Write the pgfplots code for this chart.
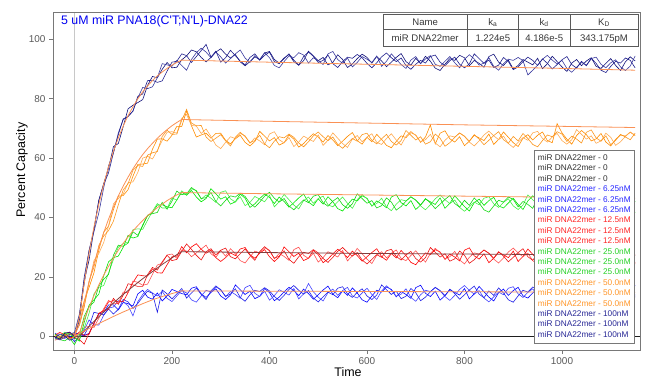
\documentclass[border=0pt]{standalone}
\usepackage{pgfplots}
\pgfplotsset{compat=1.18}
\usepackage{pgfplotstable}
\usepackage{fontspec}
\setmainfont{Liberation Sans}
\definecolor{axisgray}{RGB}{120,120,120}
\definecolor{ticktext}{RGB}{90,90,90}
\definecolor{vgray}{RGB}{200,200,200}
\definecolor{zeroc}{RGB}{30,30,30}
\definecolor{blueA}{RGB}{0,0,255}
\definecolor{blueB}{RGB}{70,70,255}
\definecolor{blueC}{RGB}{30,30,230}
\definecolor{redA}{RGB}{255,0,0}
\definecolor{redB}{RGB}{255,80,80}
\definecolor{redC}{RGB}{235,20,20}
\definecolor{greenA}{RGB}{0,230,0}
\definecolor{greenB}{RGB}{70,240,70}
\definecolor{greenC}{RGB}{20,215,20}
\definecolor{orA}{RGB}{255,140,0}
\definecolor{orB}{RGB}{255,170,80}
\definecolor{orC}{RGB}{250,150,30}
\definecolor{navA}{RGB}{15,15,120}
\definecolor{navB}{RGB}{60,60,160}
\definecolor{navC}{RGB}{30,30,140}
\definecolor{fitc}{RGB}{250,145,85}
\definecolor{fitred}{RGB}{130,60,60}
\definecolor{lgzero}{RGB}{50,50,50}
\definecolor{lgblue}{RGB}{40,40,255}
\definecolor{lgred}{RGB}{255,40,40}
\definecolor{lggreen}{RGB}{40,210,40}
\definecolor{lgor}{RGB}{255,150,40}
\definecolor{lgnav}{RGB}{40,40,150}
\definecolor{titleblue}{RGB}{0,0,240}
\definecolor{tabgray}{RGB}{90,90,90}
\definecolor{tabtext}{RGB}{55,55,55}

\pgfplotstableread{
t a b c
-40 -0.2 -0.2 1.1
-30 -0.8 -1.1 -0.1
-20 0.4 0.4 -0.7
-10 -0.4 1.3 0.2
0 0.9 0.6 -1.8
10 1.0 -0.1 0.0
20 0.3 2.2 0.4
30 1.0 5.5 3.4
40 4.4 3.9 8.1
50 7.5 3.8 7.7
60 8.0 7.1 7.2
70 10.6 9.5 9.2
80 10.6 9.9 7.5
90 8.9 12.0 9.1
100 11.4 11.6 12.4
110 11.0 10.3 11.6
120 10.2 6.9 9.4
130 14.3 11.7 11.1
140 15.5 14.1 13.3
150 13.2 15.8 15.2
160 12.5 14.6 14.5
170 14.6 13.6 8.1
180 11.9 15.1 15.6
190 13.6 12.8 14.3
200 15.8 11.7 12.6
210 15.1 13.6 14.3
220 14.4 15.4 16.1
230 14.0 14.6 12.9
240 16.2 12.3 14.6
250 16.7 11.5 16.2
260 14.3 13.6 14.1
270 13.1 15.5 12.4
280 14.8 14.9 15.3
290 16.0 16.6 17.0
300 13.6 15.8 15.6
310 12.4 13.3 13.5
320 13.9 15.1 14.2
330 17.3 14.1 16.0
340 15.7 12.8 13.1
350 14.1 16.4 11.8
360 15.2 17.2 14.0
370 12.7 14.5 15.5
380 13.5 13.4 15.1
390 16.1 15.2 16.4
400 14.7 12.2 15.3
410 12.0 13.7 13.4
420 13.2 15.7 12.1
430 15.0 14.8 13.8
440 16.5 13.9 15.8
450 15.4 16.1 17.1
460 13.7 12.6 15.5
470 15.9 14.3 14.2
480 14.4 17.8 15.4
490 12.5 15.0 12.9
500 14.0 13.2 11.6
510 15.6 11.9 13.3
520 16.9 14.7 14.9
530 14.2 15.9 14.0
540 13.0 13.8 16.2
550 15.3 15.4 16.7
560 13.8 16.5 14.3
570 16.3 13.6 13.1
580 14.6 12.9 14.8
590 12.3 14.6 16.0
600 11.5 16.2 13.6
610 13.6 14.1 12.4
620 15.5 12.4 13.9
630 14.9 15.3 17.3
640 16.6 17.0 15.7
650 15.8 15.6 14.1
660 13.3 13.5 15.2
670 15.1 14.2 12.7
680 14.1 16.0 13.5
690 12.8 13.1 16.1
700 16.4 11.8 14.7
710 17.2 14.0 12.0
720 14.5 15.5 13.2
730 13.4 15.1 15.0
740 15.2 16.4 16.5
750 12.2 15.3 15.4
760 13.7 13.4 13.7
770 15.7 12.1 15.9
780 14.8 13.8 14.4
790 13.9 15.8 12.5
800 16.1 17.1 14.0
810 12.6 15.5 15.6
820 14.3 14.2 16.9
830 16.8 15.4 14.2
840 15.0 12.9 13.0
850 13.2 11.6 15.3
860 11.9 13.3 13.8
870 14.7 14.9 16.3
880 15.9 14.0 14.6
890 13.8 16.2 12.3
900 15.4 16.7 11.5
910 16.5 14.3 13.6
920 13.6 13.1 15.5
930 12.9 14.8 14.9
940 14.6 16.0 16.6
950 16.2 13.6 15.8
960 14.1 12.4 13.3
970 12.4 13.9 15.1
980 15.3 17.3 14.1
990 17.0 15.7 12.8
1000 15.6 14.1 16.4
1010 13.5 15.2 17.2
1020 14.2 12.7 14.5
1030 16.0 13.5 13.4
1040 13.1 16.1 15.2
1050 11.8 14.7 12.2
1060 14.0 12.0 13.7
1070 15.5 13.2 15.7
1080 15.1 15.0 14.8
1090 16.4 16.5 13.9
1100 15.3 15.4 16.1
1110 13.4 13.7 12.6
1120 12.1 15.9 14.3
1130 13.8 14.4 16.8
1140 15.8 12.5 15.0
1150 17.1 14.0 13.2
}\tblue

\pgfplotstableread{
t a b c
-40 0.4 -1.3 -0.2
-30 1.3 -0.7 -0.9
-20 0.6 0.3 1.0
-10 -0.5 1.0 1.4
0 -0.2 0.5 -0.3
10 1.5 -0.8 -1.1
20 0.3 3.1 -2.6
30 0.7 3.3 1.1
40 4.5 3.0 4.2
50 7.6 6.1 7.8
60 8.8 9.3 8.5
70 11.6 12.1 9.1
80 12.0 10.9 12.8
90 11.6 11.2 10.8
100 11.7 14.9 13.9
110 14.7 14.7 17.7
120 18.1 18.6 17.3
130 20.7 18.2 16.8
140 20.4 17.2 16.8
150 20.3 17.6 20.8
160 22.7 20.9 23.2
170 21.4 24.0 22.3
180 21.3 24.6 25.1
190 24.1 27.4 27.3
200 26.8 27.7 25.5
210 27.0 26.3 25.9
220 30.2 29.1 28.6
230 28.1 28.7 31.1
240 30.1 26.8 29.3
250 31.2 28.1 27.3
260 29.3 29.4 25.7
270 28.0 30.7 28.5
280 29.0 27.8 29.5
290 26.5 26.6 27.4
300 25.2 28.9 29.0
310 26.5 27.0 29.7
320 28.1 29.5 26.8
330 27.2 27.8 26.1
340 29.4 25.5 27.8
350 29.9 24.7 29.4
360 27.5 26.8 27.3
370 26.3 28.7 25.6
380 28.0 28.1 28.5
390 29.2 29.8 30.2
400 26.8 29.0 28.8
410 25.2 26.1 26.3
420 26.7 27.9 27.0
430 30.1 26.9 28.8
440 28.5 25.6 25.9
450 26.9 29.2 24.6
460 28.0 30.0 26.8
470 25.5 27.3 28.3
480 26.3 26.2 27.9
490 28.9 28.0 29.2
500 27.5 25.0 28.1
510 24.8 26.5 26.2
520 26.0 28.5 24.9
530 27.8 27.6 26.6
540 29.3 26.7 28.6
550 28.2 28.9 29.9
560 26.5 25.4 28.3
570 28.7 27.1 27.0
580 27.2 29.6 28.2
590 25.3 27.8 25.7
600 26.8 26.0 24.4
610 28.2 24.5 25.9
620 29.5 27.3 27.5
630 26.8 28.5 26.6
640 25.6 26.4 28.8
650 27.9 28.0 29.3
660 26.4 29.1 26.9
670 28.9 26.2 25.7
680 27.2 25.5 27.4
690 24.9 27.2 28.6
700 24.1 28.8 26.2
710 26.2 26.7 25.0
720 28.1 25.0 26.5
730 27.5 27.9 29.9
740 29.2 29.6 28.3
750 28.4 28.2 26.7
760 25.9 26.1 27.8
770 27.7 26.8 25.3
780 26.7 28.6 26.1
790 25.4 25.7 28.7
800 29.0 24.4 27.3
810 29.8 26.6 24.6
820 27.1 28.1 25.8
830 26.0 27.7 27.6
840 27.8 29.0 29.1
850 24.8 27.9 28.0
860 26.3 26.0 26.3
870 28.3 24.7 28.5
880 27.4 26.4 27.0
890 26.5 28.4 25.1
900 28.7 29.7 26.6
910 25.2 28.1 28.2
920 26.9 26.8 29.5
930 29.4 28.0 26.8
940 27.6 25.5 25.6
950 25.8 24.2 27.9
960 24.5 25.9 26.4
970 27.3 27.5 28.9
980 28.5 26.6 27.2
990 26.4 28.8 24.9
1000 28.0 29.3 24.1
1010 29.1 26.9 26.2
1020 26.2 25.7 28.1
1030 25.5 27.4 27.5
1040 27.2 28.6 29.2
1050 28.8 26.2 28.4
1060 26.7 25.0 25.9
1070 25.0 26.5 27.7
1080 27.9 29.9 26.7
1090 29.6 28.3 25.4
1100 28.2 26.7 29.0
1110 26.1 27.8 29.8
1120 26.8 25.3 27.1
1130 28.6 26.1 26.0
1140 25.7 28.7 27.8
1150 24.4 27.3 24.8
}\tred

\pgfplotstableread{
t a b c
-40 0.7 -1.0 0.1
-30 -0.4 -0.3 -1.1
-20 0.5 1.4 -1.5
-10 1.0 0.6 -0.5
0 -0.5 -0.2 -2.8
10 -1.6 0.7 0.4
20 4.7 2.8 6.7
30 10.5 7.8 10.1
40 12.3 14.3 11.5
50 14.2 16.5 16.9
60 20.4 17.1 19.2
70 25.1 21.3 20.9
80 26.5 25.9 27.3
90 27.0 30.0 30.7
100 30.0 31.2 30.3
110 34.0 31.7 31.4
120 33.1 35.9 35.2
130 33.6 36.2 34.0
140 37.5 36.0 37.2
150 40.6 39.1 40.8
160 41.6 42.1 41.3
170 44.2 44.7 41.7
180 44.3 43.2 45.1
190 43.6 43.2 42.8
200 43.3 46.5 45.5
210 45.9 45.9 48.9
220 48.5 49.0 47.7
230 47.5 47.6 48.0
240 49.1 49.7 50.1
250 46.9 49.1 48.9
260 45.3 46.2 46.4
270 46.4 47.6 46.7
280 49.7 46.5 48.4
290 48.0 45.1 45.4
300 46.2 48.5 43.9
310 47.0 49.0 45.8
320 44.5 46.3 47.3
330 45.3 45.2 46.9
340 47.9 47.0 48.2
350 46.5 44.0 47.1
360 43.4 45.1 44.8
370 44.6 47.1 43.5
380 46.4 46.2 45.2
390 47.9 45.3 47.2
400 46.8 47.5 48.5
410 44.7 43.6 46.5
420 46.9 45.3 45.2
430 45.4 47.8 46.4
440 43.5 46.0 43.9
450 45.0 44.2 42.6
460 46.6 42.9 44.3
470 47.9 45.7 45.9
480 45.2 46.9 45.0
490 44.0 44.8 47.2
500 46.3 46.4 47.7
510 44.5 47.2 45.0
520 47.0 44.3 43.8
530 45.3 43.6 45.5
540 43.0 45.3 46.7
550 42.2 46.9 44.3
560 44.3 44.8 43.1
570 46.2 43.1 44.6
580 45.6 46.0 48.0
590 47.3 47.7 46.4
600 46.5 46.3 44.8
610 43.8 44.0 45.7
620 45.6 44.7 43.2
630 44.6 46.5 44.0
640 43.3 43.6 46.6
650 46.9 42.3 45.2
660 47.7 44.5 42.5
670 45.0 46.0 43.7
680 43.9 45.6 45.5
690 45.7 46.9 47.0
700 42.7 45.8 45.9
710 44.2 43.9 44.2
720 46.2 42.6 46.4
730 45.3 44.3 44.9
740 44.4 46.3 43.0
750 46.6 47.6 44.5
760 43.1 46.0 46.1
770 44.8 44.7 47.4
780 47.3 45.9 44.7
790 45.5 43.4 43.5
800 43.7 42.1 45.8
810 42.2 43.6 44.1
820 45.0 45.2 46.6
830 46.2 44.3 44.9
840 44.1 46.5 42.6
850 45.7 47.0 41.8
860 46.8 44.6 43.9
870 43.9 43.4 45.8
880 43.2 45.1 45.2
890 44.9 46.3 46.9
900 46.5 43.9 46.1
910 44.4 42.7 43.6
920 42.7 44.2 45.4
930 45.6 47.6 44.4
940 47.3 46.0 43.1
950 45.9 44.4 46.7
960 43.8 45.5 47.5
970 44.5 43.0 44.8
980 46.3 43.8 43.7
990 43.4 46.4 45.5
1000 42.1 45.0 42.5
1010 44.1 42.1 43.8
1020 45.6 43.3 45.8
1030 45.2 45.1 44.9
1040 46.5 46.6 44.0
1050 45.4 45.5 46.2
1060 43.5 43.8 42.7
1070 42.2 46.0 44.4
1080 43.9 44.5 46.9
1090 45.9 42.6 45.1
1100 47.2 44.1 43.3
1110 45.6 45.7 42.0
1120 44.3 47.0 44.8
1130 45.5 44.3 46.0
1140 43.0 43.1 43.9
1150 41.7 45.4 45.5
}\tgreen

\pgfplotstableread{
t a b c
-40 0.2 -0.6 0.0
-30 -0.3 0.2 -1.0
-20 0.8 -0.3 -0.3
-10 -1.0 0.9 0.6
0 -0.1 1.1 1.2
10 6.3 3.8 3.7
20 11.9 10.0 9.9
30 16.5 18.1 18.6
40 21.4 25.5 23.3
50 29.0 27.9 30.6
60 35.1 31.6 33.8
70 37.1 37.2 35.6
80 42.7 44.6 38.8
90 47.2 46.4 44.3
100 47.4 47.9 49.3
110 49.4 51.7 51.4
120 53.9 52.0 55.9
130 57.9 55.2 57.5
140 58.0 60.0 57.2
150 58.3 60.6 61.0
160 63.0 59.7 61.8
170 66.4 62.6 62.2
180 66.5 65.9 67.3
190 65.7 68.7 69.4
200 67.7 68.9 68.0
210 70.7 68.4 68.1
220 70.6 73.4 72.7
230 75.9 74.7 76.4
240 70.9 71.0 71.8
250 67.1 70.8 70.9
260 67.8 68.3 71.0
270 68.4 69.8 67.1
280 66.7 67.3 65.6
290 68.3 64.4 66.7
300 68.4 63.2 67.9
310 66.0 65.3 65.8
320 64.8 67.2 64.1
330 66.5 66.6 67.0
340 67.7 68.3 68.7
350 65.3 67.5 67.3
360 64.1 65.0 65.2
370 65.6 66.8 65.9
380 69.0 65.8 67.7
390 67.4 64.5 64.8
400 65.8 68.1 63.5
410 66.9 68.9 65.7
420 64.4 66.2 67.2
430 65.2 65.1 66.8
440 67.8 66.9 68.1
450 66.4 63.9 67.0
460 63.7 65.4 65.1
470 64.9 67.4 63.8
480 66.7 66.5 65.5
490 68.2 65.6 67.5
500 67.1 67.8 68.8
510 65.4 64.3 67.2
520 67.6 66.0 65.9
530 66.1 68.5 67.1
540 64.2 66.7 64.6
550 65.7 64.9 63.3
560 67.3 63.6 65.0
570 68.6 66.4 66.6
580 65.9 67.6 65.7
590 64.7 65.5 67.9
600 67.0 67.1 68.4
610 65.5 68.2 66.0
620 68.0 65.3 64.8
630 66.3 64.6 66.5
640 64.3 66.6 68.0
650 63.5 68.2 65.6
660 65.6 66.1 64.4
670 67.5 64.4 65.9
680 66.9 67.3 69.3
690 68.6 69.0 67.7
700 67.8 67.6 66.1
710 65.3 65.5 67.2
720 67.1 66.2 64.7
730 71.2 68.0 65.5
740 64.8 65.1 68.1
750 68.4 63.8 66.7
760 69.2 66.0 64.0
770 66.5 67.5 65.2
780 65.4 67.1 67.0
790 67.2 68.4 68.5
800 64.2 67.3 67.4
810 65.7 65.4 65.7
820 67.7 64.1 67.9
830 66.8 65.8 66.4
840 65.9 67.8 64.5
850 68.1 69.1 66.0
860 64.6 67.5 67.6
870 66.3 66.2 68.9
880 68.8 67.4 66.2
890 67.0 64.9 65.0
900 65.2 63.6 67.3
910 63.9 65.3 65.8
920 66.7 66.9 68.3
930 67.9 66.0 66.6
940 66.1 68.5 64.6
950 67.7 69.0 63.8
960 68.8 66.6 65.9
970 65.9 65.4 67.8
980 65.2 67.1 67.2
990 71.6 68.3 68.9
1000 68.5 65.9 68.1
1010 66.4 64.7 65.6
1020 64.7 66.2 67.4
1030 67.6 69.6 66.4
1040 69.3 68.0 65.1
1050 67.9 66.4 68.7
1060 65.8 67.5 69.5
1070 66.5 65.0 66.8
1080 68.3 65.8 65.7
1090 65.4 68.4 67.5
1100 64.1 67.0 64.5
1110 66.3 64.3 66.0
1120 67.8 65.5 68.0
1130 67.4 67.3 67.1
1140 68.7 68.8 66.2
1150 67.6 67.7 68.4
}\torange

\pgfplotstableread{
t a b c
-40 -0.2 -0.6 -0.5
-30 -0.9 -1.2 0.8
-20 1.0 -0.4 0.1
-10 1.4 0.7 -1.3
0 0.0 1.3 -0.7
10 5.3 7.4 6.9
20 18.6 17.6 19.9
30 25.7 28.9 28.9
40 36.0 35.2 36.0
50 45.7 41.6 45.9
60 51.5 50.0 51.1
70 56.5 57.5 55.1
80 63.9 61.8 61.8
90 64.9 68.5 67.9
100 70.6 73.0 73.2
110 76.6 74.1 74.0
120 77.8 75.9 75.8
130 78.7 80.3 80.8
140 79.7 83.8 81.6
150 84.5 83.4 86.1
160 87.5 84.0 86.2
170 87.0 87.1 85.5
180 89.9 91.8 86.0
190 92.2 91.4 89.3
200 90.4 90.9 92.3
210 90.6 92.9 92.6
220 93.1 91.2 95.1
230 94.4 89.6 94.5
240 96.4 93.2 92.2
250 95.8 95.5 94.2
260 93.9 97.0 96.2
270 92.4 95.7 98.3
280 93.9 93.8 94.0
290 95.7 95.8 96.0
300 96.8 94.1 92.3
310 95.0 92.0 93.8
320 93.7 93.5 96.3
330 94.9 95.1 94.5
340 92.4 96.4 92.7
350 91.1 93.7 91.4
360 92.5 92.2 93.9
370 94.1 94.5 95.1
380 93.2 93.0 93.0
390 95.4 95.5 94.6
400 95.9 93.8 95.7
410 93.2 91.2 92.5
420 92.0 90.4 91.8
430 93.7 92.5 93.5
440 94.9 94.4 95.1
450 92.5 93.8 93.0
460 91.3 95.5 91.3
470 92.8 94.7 94.2
480 96.0 92.0 95.7
490 94.4 93.8 94.3
500 92.8 92.8 92.2
510 93.9 91.5 92.9
520 91.4 95.1 94.7
530 92.2 95.9 91.8
540 94.8 93.2 90.5
550 93.2 91.9 92.5
560 90.5 93.7 94.0
570 91.7 90.7 93.6
580 93.5 92.2 94.9
590 95.0 94.2 93.8
600 93.9 93.3 91.9
610 92.0 92.2 90.4
620 94.2 94.4 92.1
630 92.7 90.9 94.1
640 90.8 92.6 95.4
650 92.3 95.1 93.8
660 93.9 93.3 92.5
670 95.2 91.5 93.7
680 92.5 90.2 91.2
690 91.3 93.0 89.9
700 93.6 94.2 91.6
710 91.8 91.8 92.9
720 94.3 93.4 92.0
730 92.6 94.5 94.2
740 90.3 91.6 94.7
750 89.5 90.9 92.3
760 91.6 92.6 91.1
770 93.5 94.2 92.8
780 92.9 92.1 94.0
790 94.6 90.4 91.6
800 93.8 93.3 90.4
810 91.1 94.8 91.7
820 92.9 93.4 95.1
830 91.9 91.3 93.5
840 90.6 92.0 91.9
850 94.2 93.8 93.0
860 95.0 90.9 90.5
870 92.3 89.6 91.3
880 91.2 91.8 93.9
890 93.0 93.3 92.5
900 90.0 92.9 89.8
910 91.2 93.9 90.7
920 93.2 92.8 92.5
930 92.3 88.0 94.0
940 91.4 89.6 92.9
950 93.6 91.3 91.2
960 90.1 93.3 93.4
970 91.8 94.6 91.9
980 94.3 93.0 90.0
990 92.5 91.7 91.5
1000 90.7 92.9 93.1
1010 89.2 90.2 94.2
1020 92.0 88.9 91.5
1030 93.2 90.6 90.3
1040 91.1 92.2 92.6
1050 92.7 91.3 91.1
1060 93.8 93.5 93.6
1070 90.9 94.0 91.9
1080 90.2 91.6 89.6
1090 91.9 90.4 88.8
1100 93.5 92.1 90.9
1110 91.2 93.1 92.6
1120 89.5 90.7 92.0
1130 92.4 89.5 93.7
1140 94.1 91.0 92.9
1150 92.7 94.4 90.4
}\tnavy

\begin{document}
\begin{tikzpicture}
\useasboundingbox (0,0) rectangle (651bp,391bp);
\begin{axis}[
  at={(53bp,41bp)}, anchor=south west,
  scale only axis, width=587bp, height=337.3bp,
  xmin=-44, xmax=1160, ymin=-4.6, ymax=108.96,
  xtick={0,200,400,600,800,1000}, ytick={0,20,40,60,80,100},
  tick align=outside, tick pos=left, major tick length=4bp,
  scaled ticks=false,
  /pgf/number format/1000 sep={},
  /pgf/number format/assume math mode=true,
  tick label style={font=\fontsize{10}{12}\selectfont, text=ticktext},
  tick style={draw=axisgray, line width=0.6bp},
  axis line style={draw=axisgray, line width=0.8bp},
  xlabel={Time}, ylabel={Percent Capacity},
  every axis x label/.style={at={(axis description cs:0.5026,-0.0643)}, anchor=center, font=\fontsize{12.5}{14}\selectfont},
  every axis y label/.style={at={(axis description cs:-0.0528,0.5337)}, anchor=center, rotate=90, font=\fontsize{12.5}{14}\selectfont},
  legend image code/.code={},
  legend cell align=left,
  legend style={at={(axis description cs:0.9915,0.593)}, anchor=north east,
    draw=axisgray, fill=white, line width=0.6bp,
    font=\fontsize{8.3}{10}\selectfont,
    inner xsep=4bp, inner ysep=3bp,
    nodes={inner sep=0pt, text height=7.2bp, text depth=3.2bp},
    /tikz/column sep=0pt, /tikz/row sep=0pt},
]
\addplot[forget plot, color=vgray, line width=0.7bp] coordinates {(0,-4.6) (0,108.96)};
% zero concentration
\addplot[zeroc, line width=0.8bp] coordinates {(-44,0) (1160,0)};
\addlegendentry{\textcolor{lgzero}{miR DNA22mer - 0}}
\addplot[zeroc, line width=0.8bp] coordinates {(-44,0) (1160,0)};
\addlegendentry{\textcolor{lgzero}{miR DNA22mer - 0}}
\addplot[zeroc, line width=0.8bp] coordinates {(-44,0) (1160,0)};
\addlegendentry{\textcolor{lgzero}{miR DNA22mer - 0}}
% 6.25 nM
\addplot[blueA, line width=0.6bp] table[x=t,y=a] {\tblue};
\addlegendentry{\textcolor{lgblue}{miR DNA22mer - 6.25nM}}
\addplot[blueB, line width=0.6bp] table[x=t,y=b] {\tblue};
\addlegendentry{\textcolor{lgblue}{miR DNA22mer - 6.25nM}}
\addplot[blueC, line width=0.6bp] table[x=t,y=c] {\tblue};
\addlegendentry{\textcolor{lgblue}{miR DNA22mer - 6.25nM}}
% 12.5 nM
\addplot[redA, line width=0.6bp] table[x=t,y=a] {\tred};
\addlegendentry{\textcolor{lgred}{miR DNA22mer - 12.5nM}}
\addplot[redB, line width=0.6bp] table[x=t,y=b] {\tred};
\addlegendentry{\textcolor{lgred}{miR DNA22mer - 12.5nM}}
\addplot[redC, line width=0.6bp] table[x=t,y=c] {\tred};
\addlegendentry{\textcolor{lgred}{miR DNA22mer - 12.5nM}}
% 25 nM
\addplot[greenA, line width=0.6bp] table[x=t,y=a] {\tgreen};
\addlegendentry{\textcolor{lggreen}{miR DNA22mer - 25.0nM}}
\addplot[greenB, line width=0.6bp] table[x=t,y=b] {\tgreen};
\addlegendentry{\textcolor{lggreen}{miR DNA22mer - 25.0nM}}
\addplot[greenC, line width=0.6bp] table[x=t,y=c] {\tgreen};
\addlegendentry{\textcolor{lggreen}{miR DNA22mer - 25.0nM}}
% 50 nM
\addplot[orA, line width=0.6bp] table[x=t,y=a] {\torange};
\addlegendentry{\textcolor{lgor}{miR DNA22mer - 50.0nM}}
\addplot[orB, line width=0.6bp] table[x=t,y=b] {\torange};
\addlegendentry{\textcolor{lgor}{miR DNA22mer - 50.0nM}}
\addplot[orC, line width=0.6bp] table[x=t,y=c] {\torange};
\addlegendentry{\textcolor{lgor}{miR DNA22mer - 50.0nM}}
% 100 nM
\addplot[navA, line width=0.6bp] table[x=t,y=a] {\tnavy};
\addlegendentry{\textcolor{lgnav}{miR DNA22mer - 100nM}}
\addplot[navB, line width=0.6bp] table[x=t,y=b] {\tnavy};
\addlegendentry{\textcolor{lgnav}{miR DNA22mer - 100nM}}
\addplot[navC, line width=0.6bp] table[x=t,y=c] {\tnavy};
\addlegendentry{\textcolor{lgnav}{miR DNA22mer - 100nM}}
% fitted curves
\addplot[forget plot, fitc, line width=0.8bp] coordinates {(0,0) (10,6.4) (20,17.9) (30,28.0) (40,36.8) (50,44.5) (60,51.2) (70,57.1) (80,62.3) (90,66.8) (100,70.8) (110,74.3) (120,77.3) (130,80.0) (140,82.3) (150,84.3) (160,86.1) (170,87.7) (180,89.0) (190,90.2) (200,91.3) (210,92.2) (220,93.0) (400,92.3) (600,91.6) (800,90.9) (1000,90.2) (1150,89.6)};
\addplot[forget plot, fitc, line width=0.8bp] coordinates {(0,0) (10,4.0) (20,11.5) (30,18.3) (40,24.4) (50,29.9) (60,34.9) (70,39.5) (80,43.6) (90,47.3) (100,50.6) (110,53.6) (120,56.4) (130,58.9) (140,61.2) (150,63.2) (160,65.0) (170,66.7) (180,68.2) (190,69.6) (200,70.9) (210,72.0) (220,73.0) (400,72.4) (600,71.8) (800,71.2) (1000,70.7) (1150,70.3)};
\addplot[forget plot, fitc, line width=0.8bp] coordinates {(0,0) (10,1.0) (20,5.6) (30,9.8) (40,13.7) (50,17.3) (60,20.6) (70,23.6) (80,26.4) (90,29.0) (100,31.3) (110,33.5) (120,35.5) (130,37.3) (140,39.0) (150,40.6) (160,42.0) (170,43.3) (180,44.5) (190,45.7) (200,46.7) (210,47.6) (220,48.4) (400,48.0) (600,47.6) (800,47.2) (1000,46.8) (1150,46.5)};
\addplot[forget plot, fitred, line width=0.8bp] coordinates {(0,0) (10,0) (20,1.7) (30,3.4) (40,5.0) (50,6.6) (60,8.2) (70,9.7) (80,11.2) (90,12.7) (100,14.1) (110,15.4) (120,16.8) (130,18.1) (140,19.4) (150,20.6) (160,21.8) (170,23.0) (180,24.2) (190,25.3) (200,26.4) (210,27.5) (220,28.5) (400,28.2) (600,27.9) (800,27.7) (1000,27.5) (1150,27.3)};
\addplot[forget plot, fitc, line width=0.8bp] coordinates {(0,0) (20,1.8) (40,3.5) (60,5.1) (80,6.7) (100,8.2) (120,9.6) (140,11.0) (160,12.3) (180,13.4) (200,14.4) (220,15.3) (400,15.2) (600,15.1) (800,15.0) (1000,14.9) (1150,14.8)};
\end{axis}
% title
\node[anchor=base west, inner sep=0pt, text=titleblue, font=\fontsize{12.4}{14}\selectfont] at (61bp,366bp) {5 uM miR PNA18(C\textquotesingle T;N\textquotesingle L)-DNA22};
% kinetics table
\fill[white] (383bp,344.3bp) rectangle (638bp,377bp);
\draw[tabgray, line width=0.7bp] (383bp,344.3bp) rectangle (638bp,377bp);
\draw[tabgray, line width=0.7bp] (383bp,361.7bp) -- (638bp,361.7bp);
\foreach \xx in {467.3,518.3,570} {\draw[tabgray, line width=0.7bp] (\xx bp,344.3bp) -- (\xx bp,377bp);}
\begin{scope}[every node/.style={inner sep=0pt, text=tabtext, font=\fontsize{9.6}{11}\selectfont, anchor=base}]
\node at (425.2bp,365.6bp) {Name};
\node at (492.8bp,365.6bp) {k\textsubscript{a}};
\node at (544.2bp,365.6bp) {k\textsubscript{d}};
\node at (604bp,365.6bp) {K\textsubscript{D}};
\node at (425.2bp,349.4bp) {miR DNA22mer};
\node at (492.8bp,349.4bp) {1.224e5};
\node at (544.2bp,349.4bp) {4.186e-5};
\node at (604bp,349.4bp) {343.175pM};
\end{scope}
\end{tikzpicture}
\end{document}
